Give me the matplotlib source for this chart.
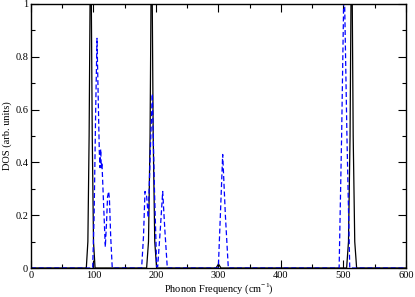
import matplotlib
matplotlib.use("Agg")
import matplotlib.pyplot as plt
from matplotlib.ticker import MultipleLocator, FormatStrFormatter, FuncFormatter

plt.rcParams['font.family'] = ['Liberation Serif', 'DejaVu Serif']
plt.rcParams['mathtext.fontset'] = 'custom'
plt.rcParams['mathtext.rm'] = 'Liberation Serif'

# Black (solid) DOS curve vertices
black_x = [0, 88.5, 91, 93, 95.5, 98, 100, 102.5,
           185, 188, 190.5, 193, 195.5, 198, 201,
           296, 300, 304,
           505, 508, 510.5, 513, 515.5, 518, 521, 600]
black_y = [0, 0, 0.1, 0.5, 1.35, 0.5, 0.1, 0,
           0, 0.1, 0.5, 1.35, 0.5, 0.1, 0,
           0, 0.015, 0,
           0, 0.1, 0.5, 1.35, 0.5, 0.1, 0, 0]

# Blue (dashed) DOS curve vertices
blue_x = [0, 98.7, 101, 103.5, 105.6, 107.5, 109.3, 110.5, 111.5, 112.5, 113.5,
          116, 118.9, 121, 122.5, 124.3, 125.5, 127.5, 130,
          177, 180, 182.4, 185.1, 187.7, 191, 194.1, 197.5, 201.1, 202.7,
          207, 210.7, 214, 218.1,
          299.7, 303, 306.7, 311, 315.7,
          493, 497, 501, 505.5, 510, 600]
blue_y = [0, 0, 0.2, 0.6, 0.87, 0.65, 0.44, 0.38, 0.45, 0.38, 0.40,
          0.25, 0.08, 0.18, 0.27, 0.29, 0.26, 0.12, 0,
          0, 0.12, 0.29, 0.27, 0.19, 0.45, 0.66, 0.3, 0.005, 0.005,
          0.15, 0.29, 0.15, 0,
          0, 0.2, 0.43, 0.2, 0,
          0, 0.5, 1.12, 0.5, 0, 0]

fig = plt.figure(figsize=(4.15, 2.97), dpi=100)
ax = fig.add_axes([0.0747, 0.0976, 0.9036, 0.889])

ax.plot(black_x, black_y, color='black', lw=0.9)
ax.plot(blue_x, blue_y, color='#0000ff', lw=0.9, linestyle=(0, (4, 2.2)))

ax.set_xlim(0, 600)
ax.set_ylim(0, 1)
ax.xaxis.set_major_locator(MultipleLocator(100))
ax.xaxis.set_minor_locator(MultipleLocator(50))
ax.yaxis.set_major_locator(MultipleLocator(0.2))
ax.yaxis.set_minor_locator(MultipleLocator(0.1))

def yfmt(v, pos):
    if abs(v) < 1e-9:
        return "0"
    if abs(v - 1) < 1e-9:
        return "1"
    return "%.1f" % v
ax.yaxis.set_major_formatter(FuncFormatter(yfmt))
ax.xaxis.set_major_formatter(FormatStrFormatter('%d'))

ax.tick_params(which='both', direction='in', top=True, right=True,
               labelsize=7.5, width=0.8, pad=2)
ax.tick_params(which='major', length=6)
ax.tick_params(which='minor', length=3)
for s in ax.spines.values():
    s.set_linewidth(1.0)

ax.set_xlabel('Phonon Frequency (cm$^{-1}$)', fontsize=7.5, labelpad=1)
ax.set_ylabel('DOS (arb. units)', fontsize=7.5, labelpad=2)

fig.savefig('out.png', dpi=100)
